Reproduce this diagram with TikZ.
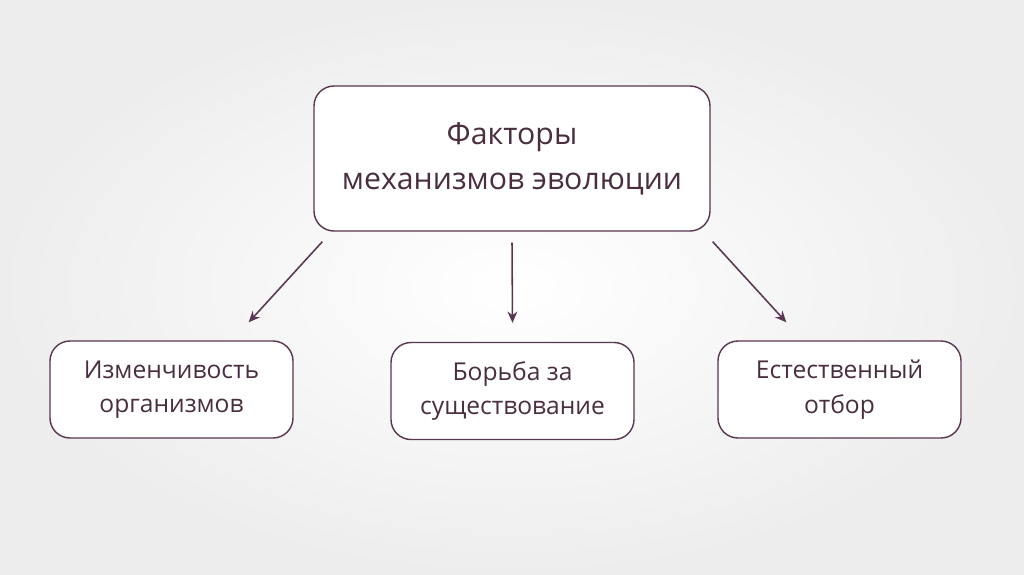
\documentclass[tikz,border=0pt]{standalone}
\usepackage{fontspec}
\setmainfont{Open Sans}
\usepackage{xcolor}
\usetikzlibrary{arrows.meta,positioning,calc}

\definecolor{plum}{HTML}{5A3550}
\definecolor{plumtext}{HTML}{4B2D40}

\begin{document}
\begin{tikzpicture}[x=0.025cm, y=-0.025cm,
    box/.style={rectangle, rounded corners=20*0.025cm, draw=plum, fill=white, line width=1pt,
        text=plumtext, align=center, inner sep=0pt},
    topbox/.style={box, minimum width=396*0.025cm, minimum height=145*0.025cm, font=\fontsize{21.5}{32}\selectfont},
    lowbox/.style={box, minimum width=243*0.025cm, minimum height=97*0.025cm, font=\fontsize{17.5}{24.5}\selectfont},
    arr/.style={-{Stealth[length=8pt, width=7pt]}, line width=1.1pt, plum}
]
    \shade[inner color=white, outer color=black!7] (0,0) rectangle (1024,574);
    \node[topbox] (top) at (512,158.5) {Факторы\\механизмов эволюции};
    \node[lowbox] (var) at (171.5,389.5) {Изменчивость\\организмов};
    \node[lowbox] (fight) at (512.5,391) {Борьба за\\существование};
    \node[lowbox] (sel) at (839.5,389.5) {Естественный\\отбор};
    \draw[arr] ($(top.south west)+(9,10)$) -- ($(var.north east)+(-45,-18)$);
    \draw[arr] ($(top.south)+(0,11)$) -- ($(fight.north)+(0,-19)$);
    \draw[arr] ($(top.south east)+(2,10)$) -- ($(sel.north west)+(69,-18)$);
\end{tikzpicture}
\end{document}
